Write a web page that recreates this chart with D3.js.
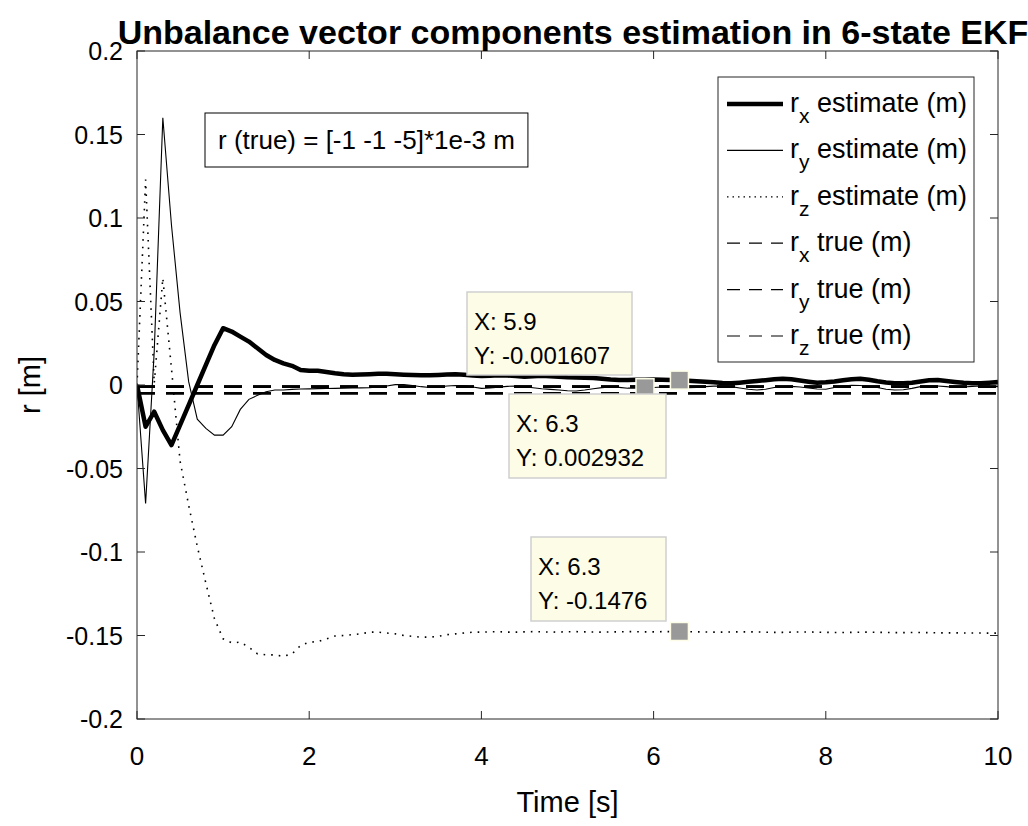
<!DOCTYPE html>
<html>
<head>
<meta charset="utf-8">
<script src="https://cdn.jsdelivr.net/npm/d3@7"></script>
<style>
  body { margin: 0; background: #fff; }
  text { font-family: "Liberation Sans", Arial, Helvetica, sans-serif; fill: #000; }
</style>
</head>
<body>
<svg id="chart" width="1028" height="826"></svg>
<script>
// sampling grid, 0.1 s steps
var time = d3.range(0, 101).map(function (i) { return i / 10; });

// r_x estimate (m)
var rxEst = [0, -0.025, -0.016, -0.027, -0.036, -0.024, -0.012, 0.000, 0.012, 0.024,
  0.034, 0.032, 0.029, 0.026, 0.022, 0.018, 0.015, 0.013, 0.0115, 0.009,
  0.0085, 0.0085, 0.0078, 0.007, 0.0064, 0.0062, 0.0063, 0.0065, 0.0068, 0.0067,
  0.0064, 0.0062, 0.006, 0.0058, 0.0058, 0.006, 0.0063, 0.0064, 0.0062, 0.0057,
  0.0054, 0.0055, 0.0058, 0.0057, 0.0054, 0.005, 0.0052, 0.0055, 0.0053, 0.0049,
  0.0046, 0.0045, 0.0044, 0.0042, 0.0038, 0.0033, 0.003, 0.003, 0.0031, 0.0032,
  0.0033, 0.0032, 0.003, 0.0029, 0.0026, 0.0022, 0.0019, 0.0017, 0.0012, 0.001,
  0.0014, 0.0019, 0.0024, 0.0029, 0.0034, 0.0038, 0.0034, 0.0027, 0.002, 0.0014,
  0.0016, 0.0021, 0.0028, 0.0035, 0.0038, 0.0031, 0.0022, 0.0015, 0.001, 0.0011,
  0.0014, 0.0021, 0.0028, 0.003, 0.0024, 0.0018, 0.0013, 0.001, 0.0011, 0.0014,
  0.0018];

// r_y estimate (m)
var ryEst = [0, -0.071, 0.02, 0.16, 0.096, 0.0435, 0.002, -0.0205, -0.026, -0.030,
  -0.030, -0.025, -0.0146, -0.0086, -0.0062, -0.004, -0.003, -0.003, -0.0026, -0.0024,
  -0.0023, -0.0022, -0.0021, -0.002, -0.0019, -0.0018, -0.0017, -0.0016, -0.0012, -0.0006,
  0.0002, 0.0003, -0.0003, -0.001, -0.0015, -0.0012, -0.0006, -0.0003, -0.0005, -0.0012,
  -0.002, -0.0018, -0.0013, -0.0008, -0.0006, -0.001, -0.0016, -0.0022, -0.0026, -0.003,
  -0.0034, -0.0036, -0.003, -0.0022, -0.0016, -0.0012, -0.0014, -0.0019, -0.0019, -0.0016,
  -0.0015, -0.0012, -0.001, -0.0015, -0.0016, -0.0014, -0.001, -0.0007, -0.0006, -0.001,
  -0.0018, -0.0025, -0.003, -0.0025, -0.0015, -0.001, -0.0008, -0.0012, -0.0018, -0.0024,
  -0.0025, -0.0015, -0.0006, -0.0002, -0.0003, -0.0008, -0.0015, -0.0025, -0.003, -0.0028,
  -0.002, -0.001, -0.0006, -0.0006, -0.001, -0.0015, -0.0012, -0.0008, -0.0006, -0.0008,
  -0.001];

// r_z estimate (m)
var rzEst = [0, 0.123, 0.001, 0.064, 0.01, -0.0455, -0.072, -0.0966, -0.1187, -0.140,
  -0.152, -0.1544, -0.154, -0.157, -0.161, -0.1616, -0.1616, -0.1625, -0.161, -0.156,
  -0.154, -0.1537, -0.152, -0.1503, -0.150, -0.1495, -0.149, -0.148, -0.148, -0.1485,
  -0.149, -0.150, -0.1505, -0.151, -0.151, -0.1505, -0.1495, -0.149, -0.1485, -0.148,
  -0.148, -0.1478, -0.1477, -0.148, -0.148, -0.1478, -0.1477, -0.1478, -0.148, -0.1479,
  -0.1478, -0.1477, -0.1478, -0.1479, -0.148, -0.1479, -0.1478, -0.1477, -0.1477, -0.1478,
  -0.1478, -0.1477, -0.1477, -0.1476, -0.1477, -0.1478, -0.1479, -0.148, -0.148, -0.1479,
  -0.1478, -0.1478, -0.1479, -0.148, -0.1481, -0.1481, -0.148, -0.1479, -0.1479, -0.148,
  -0.1481, -0.1482, -0.1482, -0.1481, -0.148, -0.148, -0.1481, -0.1482, -0.1483, -0.1483,
  -0.1482, -0.1482, -0.1483, -0.1484, -0.1484, -0.1484, -0.1485, -0.1485, -0.1485, -0.1486,
  -0.1486];

// true values (m)
var trueNames = ["rx", "ry", "rz"];
var trueValues = [-0.001, -0.001, -0.005];

var xTicks = [0, 2, 4, 6, 8, 10];
var yTicks = [-0.2, -0.15, -0.1, -0.05, 0, 0.05, 0.1, 0.15, 0.2];
var yTickLabels = ["-0.2", "-0.15", "-0.1", "-0.05", "0", "0.05", "0.1", "0.15", "0.2"];

// data tips
var tipX = [5.9, 6.3, 6.3];
var tipY = [-0.001607, 0.002932, -0.1476];

var legendLabels = [["r", "x", " estimate (m)"], ["r", "y", " estimate (m)"], ["r", "z", " estimate (m)"],
  ["r", "x", " true (m)"], ["r", "y", " true (m)"], ["r", "z", " true (m)"]];

var titleText = "Unbalance vector components estimation in 6-state EKF";
var noteText = "r (true) = [-1 -1 -5]*1e-3 m";

var margin = { left: 137, top: 51, right: 30, bottom: 107 };
var width = 1028, height = 826;

var svg = d3.select("#chart");

var x = d3.scaleLinear().domain([0, 10]).range([margin.left, width - margin.right]);
var y = d3.scaleLinear().domain([-0.2, 0.2]).range([height - margin.bottom, margin.top]);

svg.append("clipPath").attr("id", "clip")
  .append("rect")
  .attr("x", x(0)).attr("y", y(0.2))
  .attr("width", x(10) - x(0)).attr("height", y(-0.2) - y(0.2));

var plot = svg.append("g").attr("clip-path", "url(#clip)");

// true values, dashed
trueValues.forEach(function (v) {
  plot.append("line")
    .attr("x1", x(0)).attr("x2", x(10))
    .attr("y1", y(v)).attr("y2", y(v))
    .attr("stroke", "#000")
    .attr("stroke-width", 2.6)
    .attr("stroke-dasharray", "18,11");
});

var line = d3.line()
  .x(function (d, i) { return x(time[i]); })
  .y(function (d) { return y(d); });

plot.append("path").datum(rzEst)
  .attr("d", line).attr("fill", "none")
  .attr("stroke", "#000").attr("stroke-width", 1.6)
  .attr("stroke-dasharray", "1.6,6");

plot.append("path").datum(ryEst)
  .attr("d", line).attr("fill", "none")
  .attr("stroke", "#000").attr("stroke-width", 1.1);

plot.append("path").datum(rxEst)
  .attr("d", line).attr("fill", "none")
  .attr("stroke", "#000").attr("stroke-width", 4.5)
  .attr("stroke-linejoin", "round");

// axes (MATLAB style: ticks inside, box on)
var tickLen = 8;
var axisG = svg.append("g").attr("stroke", "#262626").attr("stroke-width", 1);
axisG.append("rect")
  .attr("x", x(0)).attr("y", y(0.2))
  .attr("width", x(10) - x(0)).attr("height", y(-0.2) - y(0.2))
  .attr("fill", "none");

xTicks.forEach(function (t) {
  axisG.append("line").attr("x1", x(t)).attr("x2", x(t))
    .attr("y1", y(-0.2)).attr("y2", y(-0.2) - tickLen);
  axisG.append("line").attr("x1", x(t)).attr("x2", x(t))
    .attr("y1", y(0.2)).attr("y2", y(0.2) + tickLen);
});
yTicks.forEach(function (t) {
  axisG.append("line").attr("x1", x(0)).attr("x2", x(0) + tickLen)
    .attr("y1", y(t)).attr("y2", y(t));
  axisG.append("line").attr("x1", x(10)).attr("x2", x(10) - tickLen)
    .attr("y1", y(t)).attr("y2", y(t));
});

svg.selectAll(".xlab").data(xTicks).enter().append("text")
  .attr("x", function (d) { return x(d); })
  .attr("y", y(-0.2) + 46)
  .attr("text-anchor", "middle")
  .style("font-size", "26px")
  .text(function (d) { return d; });

svg.selectAll(".ylab").data(yTicks).enter().append("text")
  .attr("x", x(0) - 14)
  .attr("y", function (d) { return y(d) + 9; })
  .attr("text-anchor", "end")
  .style("font-size", "25px")
  .text(function (d, i) { return yTickLabels[i]; });

svg.append("text")
  .attr("x", (x(0) + x(10)) / 2).attr("y", 812)
  .attr("text-anchor", "middle")
  .style("font-size", "29px")
  .text("Time [s]");

svg.append("text")
  .attr("transform", "translate(40," + y(0) + ") rotate(-90)")
  .attr("text-anchor", "middle")
  .style("font-size", "29px")
  .text("r [m]");

svg.append("text")
  .attr("x", 573).attr("y", 44)
  .attr("text-anchor", "middle")
  .style("font-size", "34px")
  .style("font-weight", "bold")
  .text(titleText);

// annotation box
var note = svg.append("g");
var noteT = note.append("text")
  .attr("x", 218).attr("y", 149)
  .style("font-size", "26px")
  .text(noteText);
var nb = noteT.node().getBBox();
note.insert("rect", "text")
  .attr("x", 205).attr("y", 113)
  .attr("width", nb.width + 26).attr("height", 54)
  .attr("fill", "#fff").attr("stroke", "#000").attr("stroke-width", 1);

// data tips
var tipBoxes = [
  { bx: 467, by: 292, bw: 165, bh: 83 },
  { bx: 509, by: 394, bw: 157, bh: 84 },
  { bx: 531, by: 537, bw: 135, bh: 84 }
];
tipX.forEach(function (tx, i) {
  var b = tipBoxes[i];
  var g = svg.append("g");
  g.append("rect")
    .attr("x", b.bx).attr("y", b.by).attr("width", b.bw).attr("height", b.bh)
    .attr("fill", "#fdfde7").attr("stroke", "#cfcfcf").attr("stroke-width", 1.5);
  g.append("text").attr("x", b.bx + 7).attr("y", b.by + 38)
    .style("font-size", "24px").text("X: " + tx);
  g.append("text").attr("x", b.bx + 7).attr("y", b.by + 72)
    .style("font-size", "24px").text("Y: " + tipY[i]);
  g.append("rect")
    .attr("x", x(tx) - 9).attr("y", y(tipY[i]) - 9)
    .attr("width", 18).attr("height", 18)
    .attr("fill", "#999").attr("stroke", "#fdfde7").attr("stroke-width", 1.5);
});

// legend
var leg = svg.append("g");
leg.append("rect")
  .attr("x", 718).attr("y", 77).attr("width", 256).attr("height", 285)
  .attr("fill", "#fff").attr("stroke", "#262626").attr("stroke-width", 1);
var legStyles = [
  { w: 4.5, dash: null }, { w: 1.1, dash: null }, { w: 1.3, dash: "1.5,4" },
  { w: 1.2, dash: "13,9" }, { w: 1.2, dash: "13,9" }, { w: 1.2, dash: "13,9" }
];
legendLabels.forEach(function (lab, i) {
  var cy = 104 + i * 46.4;
  leg.append("line")
    .attr("x1", 727).attr("x2", 783).attr("y1", cy).attr("y2", cy)
    .attr("stroke", "#000").attr("stroke-width", legStyles[i].w)
    .attr("stroke-dasharray", legStyles[i].dash);
  var t = leg.append("text").attr("x", 790).attr("y", cy + 8).style("font-size", "27px");
  t.append("tspan").text(lab[0]);
  t.append("tspan").attr("dy", 11).style("font-size", "21px").text(lab[1]);
  t.append("tspan").attr("dy", -11).text(lab[2]);
});
</script>
</body>
</html>
